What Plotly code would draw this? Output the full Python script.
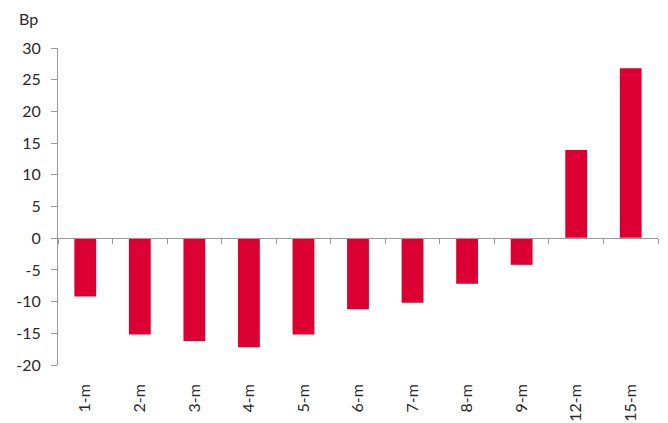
import plotly.graph_objects as go

categories = ["1-m", "2-m", "3-m", "4-m", "5-m", "6-m", "7-m", "8-m", "9-m", "12-m", "15-m"]
values = [-9.2, -15.2, -16.2, -17.2, -15.2, -11.2, -10.2, -7.2, -4.2, 13.9, 26.8]
y_ticks = [-20, -15, -10, -5, 0, 5, 10, 15, 20, 25, 30]
unit_label = "Bp"

bar_color = "#DC0032"
axis_color = "#9a9a9a"
text_color = "#2a2a2a"
font_family = "Lato, Noto Sans, sans-serif"

fig = go.Figure()
fig.add_trace(go.Bar(
    x=categories, y=values, marker=dict(color=bar_color, line=dict(width=0)),
    xaxis="x", yaxis="y", showlegend=False,
))
# invisible trace to carry the zero-line axis
fig.add_trace(go.Bar(x=categories, y=[0] * len(categories), xaxis="x2", yaxis="y",
                     showlegend=False, hoverinfo="skip", marker=dict(color="rgba(0,0,0,0)")))

ymin, ymax = y_ticks[0], y_ticks[-1]
zero_frac = (0 - ymin) / (ymax - ymin)

fig.update_layout(
    width=668, height=423,
    margin=dict(l=58, r=10, t=48, b=58, autoexpand=False),
    paper_bgcolor="white", plot_bgcolor="white",
    bargap=0.6,
    font=dict(family=font_family, size=16, color=text_color),
    xaxis=dict(
        type="category", showline=False, showgrid=False, zeroline=False,
        ticks="", tickangle=-90, ticklabelstandoff=15, automargin=False,
        tickfont=dict(size=16, color=text_color),
    ),
    xaxis2=dict(
        type="category", overlaying="x", anchor="free", position=zero_frac,
        showline=True, linecolor=axis_color, linewidth=1,
        ticks="outside", tickson="boundaries", ticklen=5, tickcolor=axis_color,
        showticklabels=False, showgrid=False, zeroline=False,
        matches="x", automargin=False,
    ),
    yaxis=dict(
        range=[ymin, ymax], tickvals=y_ticks, ticktext=[str(v) for v in y_ticks],
        showgrid=False, zeroline=False,
        showline=True, linecolor=axis_color, linewidth=1,
        ticks="outside", ticklen=6, tickcolor=axis_color,
        ticklabelstandoff=7, automargin=False,
        tickfont=dict(size=16, color=text_color),
    ),
    annotations=[dict(
        text=unit_label, xref="paper", yref="paper", x=0, y=1,
        xanchor="right", yanchor="bottom", xshift=-18, yshift=18,
        showarrow=False, font=dict(size=16, color=text_color),
    )],
)

fig.write_html("out.html")
